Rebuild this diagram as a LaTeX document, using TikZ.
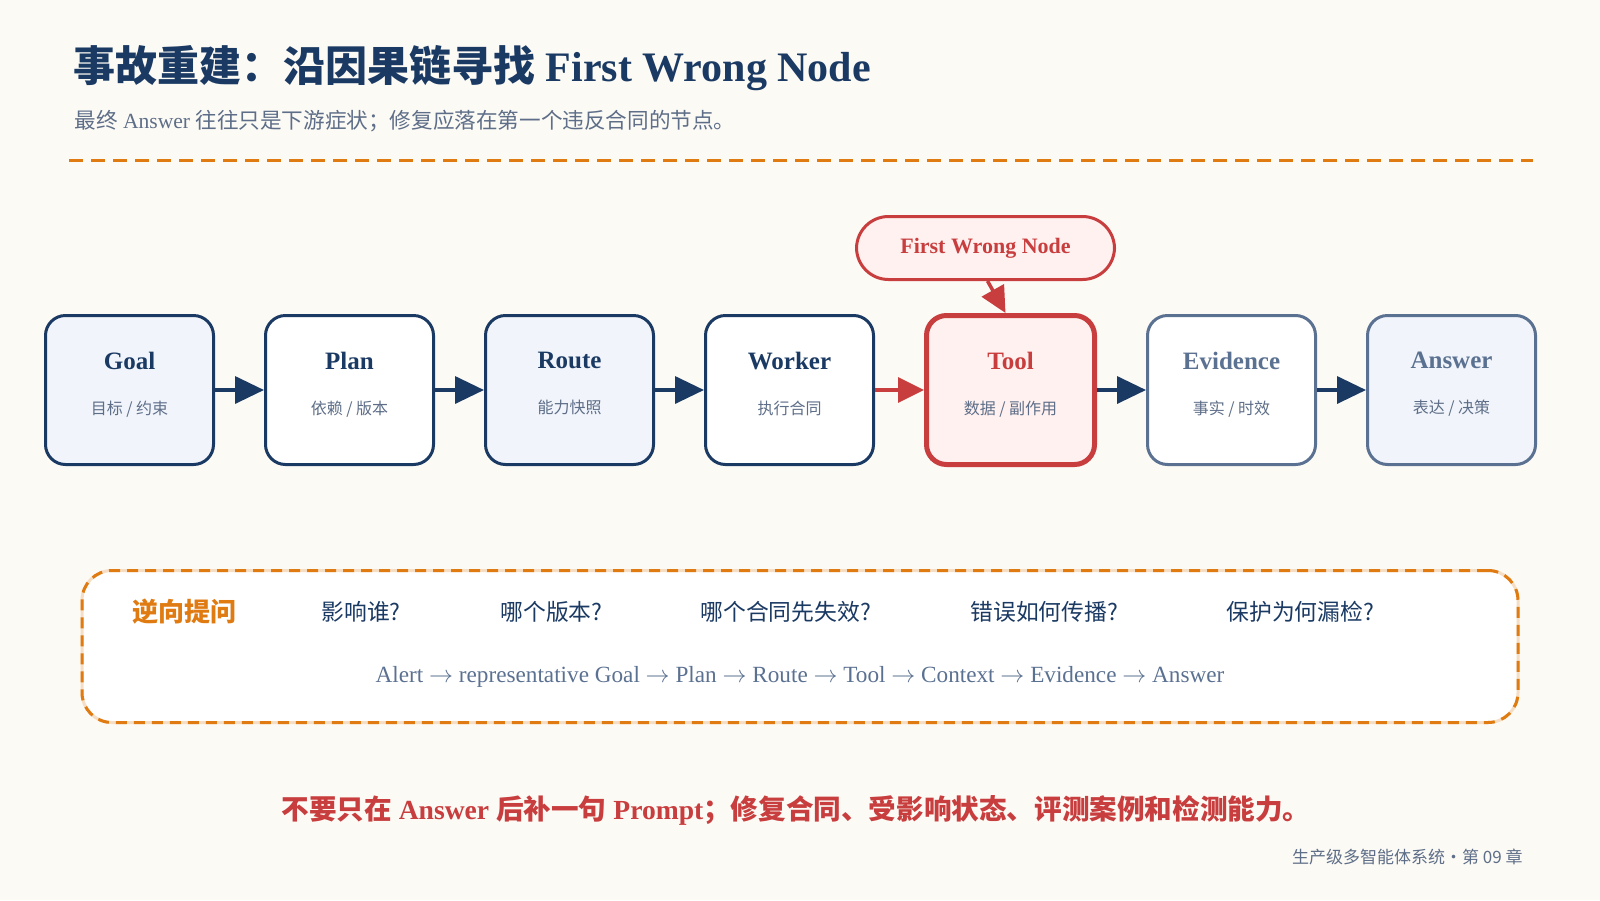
\documentclass[tikz,border=0pt]{standalone}
\usepackage{fontspec}
\setmainfont{Liberation Serif}
\newfontfamily\cjk{Noto Sans CJK SC}
\usepackage{tikz}
\usetikzlibrary{positioning, arrows.meta}
\definecolor{navy}{HTML}{1B3A63}
\definecolor{slate}{HTML}{5B7191}
\definecolor{inkgrey}{HTML}{5E6E88}
\definecolor{paleblue}{HTML}{F1F5FB}
\definecolor{paper}{HTML}{FCFAF5}
\definecolor{alarm}{HTML}{C83E3E}
\definecolor{alarmlight}{HTML}{FFF1F0}
\definecolor{amber}{HTML}{E07B12}
\definecolor{amberlight}{HTML}{F6DEC4}
\newcommand{\stagesub}[1]{{\cjk\fontsize{8}{10}\selectfont\color{inkgrey}#1}}
\tikzset{
  stage/.style    = {rectangle, rounded corners=10pt, draw=navy, line width=1.5pt,
                     fill=white, text=navy, minimum width=84pt, minimum height=74.5pt,
                     align=center, text depth=7pt, font=\fontsize{12.5}{15}\selectfont},
  fault/.style    = {stage, draw=alarm, line width=2.5pt, fill=alarmlight, text=alarm},
  late/.style     = {stage, draw=slate, text=slate},
  callout/.style  = {rectangle, rounded corners=16pt, draw=alarm, line width=1.5pt,
                     fill=alarmlight, text=alarm, minimum width=129pt, minimum height=31.5pt,
                     font=\bfseries\fontsize{11}{13}\selectfont},
  probe/.style    = {rectangle, rounded corners=15pt, draw=amberlight, line width=1.5pt,
                     fill=white, minimum width=718pt, minimum height=76pt,
                     postaction={draw=amber, line width=1.5pt, dash pattern=on 5.5pt off 3.5pt}},
  ask/.style      = {anchor=west, inner xsep=0pt, text=navy, font=\cjk\fontsize{11.4}{13}\selectfont},
  flow/.style     = {-{Triangle[length=14.5pt,width=13.5pt]}, line width=1.75pt, draw=navy},
  redflow/.style  = {-{Triangle[length=13pt,width=12.5pt]}, line width=1.75pt, draw=alarm},
  rule/.style     = {draw=amber, line width=1.5pt, dash pattern=on 7pt off 4pt},
}

\begin{document}
\begin{tikzpicture}[x=0.5pt, y=-0.5pt, node distance=24.5pt]

  \fill[paper] (0,0) rectangle (1600,900);

  % header
  \node[anchor=west, inner xsep=0pt, text=navy, font=\bfseries\fontsize{21}{25}\selectfont] (title) at (73,68)
       {{\cjk 事故重建：沿因果链寻找} First Wrong Node};
  \node[anchor=west, inner xsep=0pt, text=inkgrey, font=\fontsize{10.8}{13}\selectfont] (lede) at (74,121)
       {{\cjk 最终} Answer {\cjk 往往只是下游症状；修复应落在第一个违反合同的节点。}};
  \draw[rule] (69,160) -- (1533,160);

  % causal chain
  \node[stage, fill=paleblue] (goal) at (129.5,390) {\textbf{Goal}\\[7.5pt]\stagesub{目标 / 约束}};
  \node[stage, right=of goal] (plan) {\textbf{Plan}\\[7.5pt]\stagesub{依赖 / 版本}};
  \node[stage, right=of plan, fill=paleblue] (route) {\textbf{Route}\\[7.5pt]\stagesub{能力快照}};
  \node[stage, right=of route] (worker) {\textbf{Worker}\\[7.5pt]\stagesub{执行合同}};
  \node[fault, right=of worker] (tool) {\textbf{Tool}\\[7.5pt]\stagesub{数据 / 副作用}};
  \node[late, right=of tool] (evidence) {\textbf{Evidence}\\[7.5pt]\stagesub{事实 / 时效}};
  \node[late, right=of evidence, fill=paleblue] (answer) {\textbf{Answer}\\[7.5pt]\stagesub{表达 / 决策}};

  \draw[flow] (goal) -- (plan);
  \draw[flow] (plan) -- (route);
  \draw[flow] (route) -- (worker);
  \draw[redflow] (worker) -- (tool);
  \draw[flow] (tool) -- (evidence);
  \draw[flow] (evidence) -- (answer);

  \node[callout, above=16pt of tool, xshift=-12.5pt] (fwn) {First Wrong Node};
  \draw[redflow] ([xshift=1pt]fwn.south) -- ([xshift=-2.5pt]tool.north);

  % backward questions
  \node[probe] (probe) at (800,646.5) {};
  \node[anchor=west, inner xsep=0pt, text=amber, font=\cjk\bfseries\fontsize{13}{15}\selectfont] (probehead) at (132,612) {逆向提问};
  \node[ask] (q1) at (321,612) {影响谁?};
  \node[ask] (q2) at (500,612) {哪个版本?};
  \node[ask] (q3) at (700,612) {哪个合同先失效?};
  \node[ask] (q4) at (970,612) {错误如何传播?};
  \node[ask] (q5) at (1226,612) {保护为何漏检?};
  \node[text=slate, font=\fontsize{11.6}{14}\selectfont] (trail) at (800,677)
       {Alert $\to$ representative Goal $\to$ Plan $\to$ Route $\to$ Tool $\to$ Context $\to$ Evidence $\to$ Answer};

  % takeaway
  \node[text=alarm, font=\bfseries\fontsize{13.8}{16}\selectfont] (takeaway) at (796,810)
       {{\cjk 不要只在} Answer {\cjk 后补一句} Prompt{\cjk ；修复合同、受影响状态、评测案例和检测能力。}};
  \node[anchor=east, inner xsep=0pt, text=inkgrey, font=\cjk\fontsize{8.5}{10}\selectfont] (footer) at (1523,857)
       {生产级多智能体系统·第 09 章};

\end{tikzpicture}
\end{document}
